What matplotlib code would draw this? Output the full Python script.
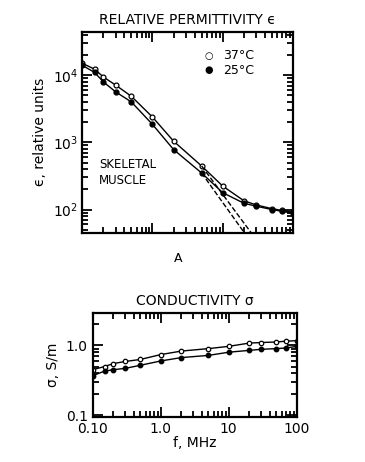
import matplotlib
matplotlib.use("Agg")
import matplotlib.pyplot as plt
from matplotlib.ticker import LogLocator, NullFormatter, FixedLocator, FixedFormatter

plt.rcParams["font.family"] = "DejaVu Sans"

# frequencies, MHz
freq = [0.1, 0.15, 0.2, 0.3, 0.5, 1.0, 2.0, 5.0, 10.0, 20.0, 30.0, 50.0, 70.0, 100.0]

# relative permittivity
eps_37 = [15000, 12300, 9400, 7100, 4850, 2380, 1040, 445, 223, 135, 117, 103, 97, 91]
eps_25 = [14000, 11000, 7950, 5630, 4000, 1850, 780, 350, 178, 124, 112, 100, 94, 88]

# dashed extrapolations (low-frequency dispersion only)
dash_f = [5.0, 25.0]
dash_37 = [445, 46]
dash_25 = [350, 46]
dash_f_25 = [5.0, 20.0]

# conductivity, S/m
sig_37 = [0.45, 0.50, 0.55, 0.59, 0.63, 0.74, 0.83, 0.90, 0.97, 1.08, 1.10, 1.12, 1.15, 1.17]
sig_25 = [0.37, 0.43, 0.45, 0.47, 0.52, 0.60, 0.67, 0.72, 0.80, 0.85, 0.88, 0.90, 0.92, 0.97]

fig = plt.figure(figsize=(3.65, 4.62), dpi=100)

def style(ax):
    for s in ax.spines.values():
        s.set_linewidth(1.6)
    ax.tick_params(which="both", direction="in", top=True, right=True, width=1.3)
    ax.tick_params(which="major", length=7)
    ax.tick_params(which="minor", length=4)

# ---- permittivity ----
ax1 = fig.add_axes([0.225, 0.496, 0.578, 0.435])
ax1.plot(freq, eps_37, "-o", color="black", mfc="white", ms=3.5, lw=1.0, mew=0.9)
ax1.plot(freq, eps_25, "-o", color="black", mfc="black", ms=3.5, lw=1.0)
ax1.plot(dash_f, dash_37, "--", color="black", lw=1.0)
ax1.plot(dash_f_25, dash_25, "--", color="black", lw=1.0)
ax1.set_xscale("log")
ax1.set_yscale("log")
ax1.set_xlim(0.1, 100)
ax1.set_ylim(45, 44000)
style(ax1)
ax1.xaxis.set_major_formatter(NullFormatter())
ax1.xaxis.set_minor_formatter(NullFormatter())
ax1.yaxis.set_major_locator(FixedLocator([100, 1000, 10000]))
ax1.yaxis.set_major_formatter(FixedFormatter(["$10^2$", "$10^3$", "$10^4$"]))
ax1.yaxis.set_minor_locator(LogLocator(base=10, subs=(2, 3, 4, 5, 6, 7, 8, 9)))
ax1.yaxis.set_minor_formatter(NullFormatter())
ax1.tick_params(axis="y", labelsize=10, pad=3)
ax1.set_ylabel("ϵ, relative units", fontsize=10)
ax1.set_title("RELATIVE PERMITTIVITY ϵ", fontsize=10, pad=6)
ax1.plot([0.6], [0], alpha=0)
ax1.text(0.6, 0.88, "○", transform=ax1.transAxes, fontsize=7, ha="center", va="center")
ax1.text(0.6, 0.81, "●", transform=ax1.transAxes, fontsize=7, ha="center", va="center")
ax1.text(0.67, 0.88, "37°C", transform=ax1.transAxes, fontsize=9, va="center")
ax1.text(0.67, 0.81, "25°C", transform=ax1.transAxes, fontsize=9, va="center")
ax1.text(0.08, 0.30, "SKELETAL\nMUSCLE", transform=ax1.transAxes, fontsize=8.5,
         va="center", linespacing=1.3)
fig.text(0.488, 0.44, "A", fontsize=9, ha="center", va="center")

# ---- conductivity ----
ax2 = fig.add_axes([0.254, 0.0974, 0.559, 0.225])
ax2.plot(freq, sig_37, "-o", color="black", mfc="white", ms=3.2, lw=1.0, mew=0.9)
ax2.plot(freq, sig_25, "-o", color="black", mfc="black", ms=3.2, lw=1.0)
ax2.set_xscale("log")
ax2.set_yscale("log")
ax2.set_xlim(0.1, 100)
ax2.set_ylim(0.095, 2.9)
style(ax2)
ax2.xaxis.set_major_locator(FixedLocator([0.1, 1, 10, 100]))
ax2.xaxis.set_major_formatter(FixedFormatter(["0.10", "1.0", "10", "100"]))
ax2.xaxis.set_minor_formatter(NullFormatter())
ax2.yaxis.set_major_locator(FixedLocator([0.1, 1.0]))
ax2.yaxis.set_major_formatter(FixedFormatter(["0.1", "1.0"]))
ax2.yaxis.set_minor_formatter(NullFormatter())
ax2.tick_params(labelsize=10)
ax2.set_xlabel("f, MHz", fontsize=10, labelpad=0)
ax2.set_ylabel("σ, S/m", fontsize=10)
ax2.set_title("CONDUCTIVITY σ", fontsize=10, pad=6)

fig.savefig("out.png", dpi=100, facecolor="white")
